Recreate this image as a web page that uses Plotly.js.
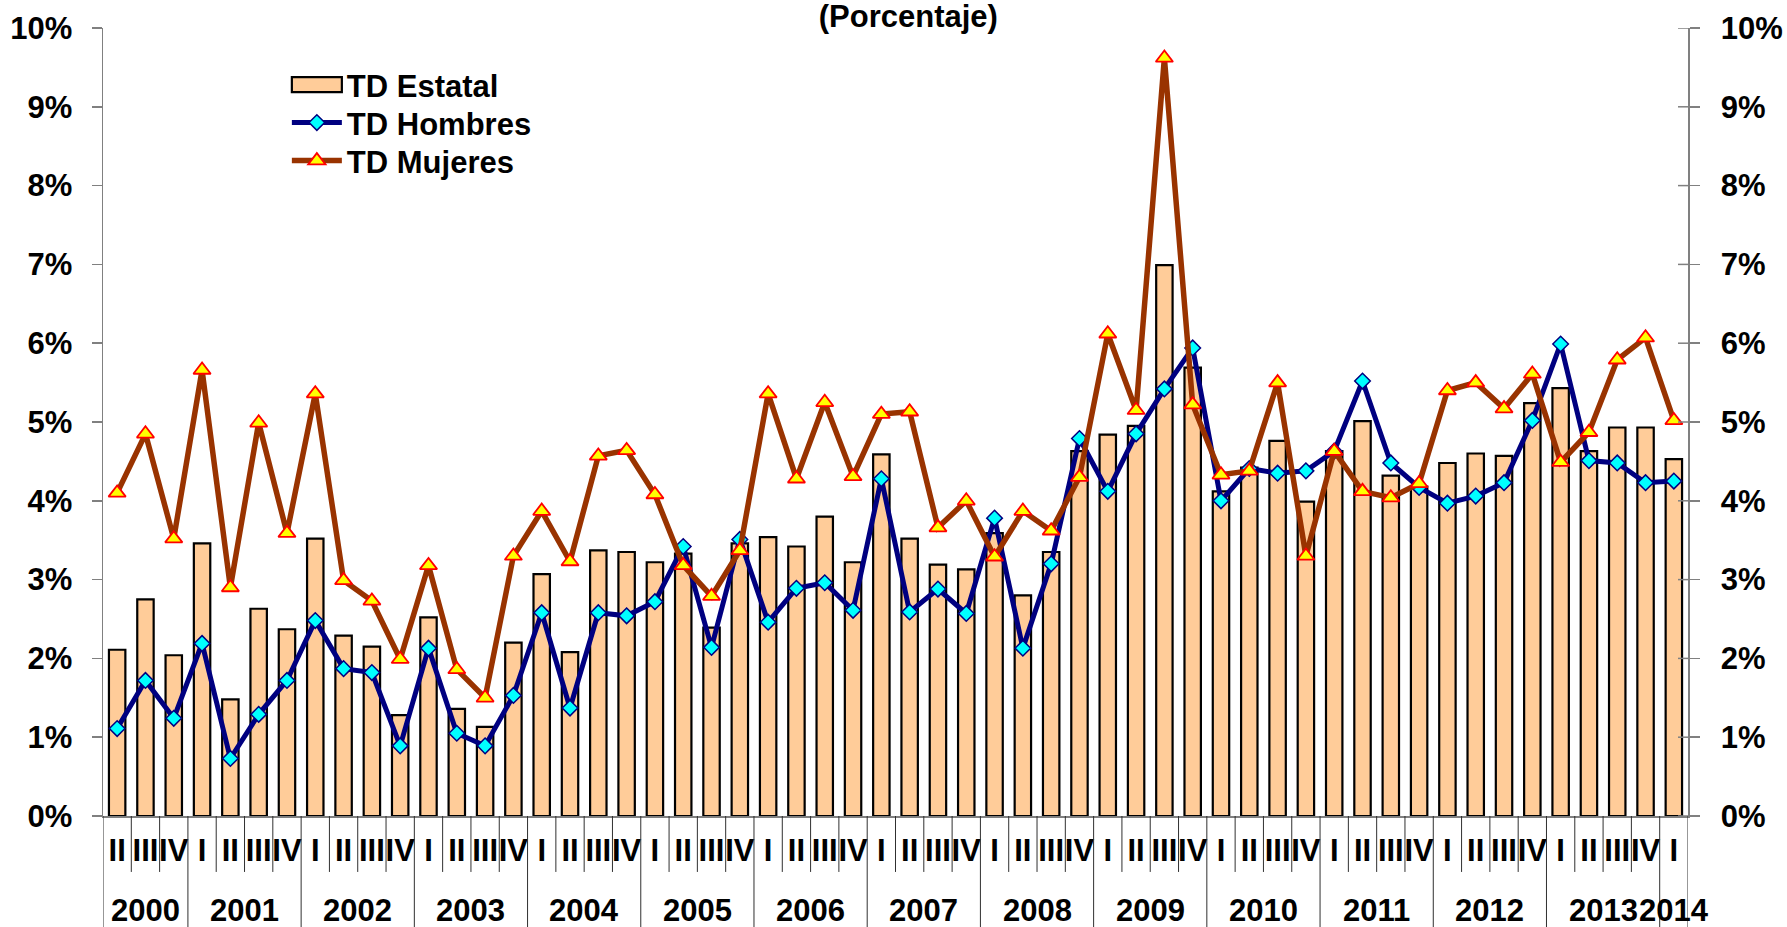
<!DOCTYPE html>
<html>
<head>
<meta charset="utf-8">
<script src="https://cdn.plot.ly/plotly-3.0.1.min.js"></script>
<style>
  html, body { margin: 0; padding: 0; background: #ffffff; }
  #chart { width: 1787px; height: 927px; }
</style>
</head>
<body>
<div id="chart"></div>
<script>
// ---- Data (percent) ----
const quarters = [
  'II','III','IV',
  'I','II','III','IV',
  'I','II','III','IV',
  'I','II','III','IV',
  'I','II','III','IV',
  'I','II','III','IV',
  'I','II','III','IV',
  'I','II','III','IV',
  'I','II','III','IV',
  'I','II','III','IV',
  'I','II','III','IV',
  'I','II','III','IV',
  'I','II','III','IV',
  'I','II','III','IV',
  'I'
];
const quarterYears = [
  '2000','2000','2000',
  '2001','2001','2001','2001',
  '2002','2002','2002','2002',
  '2003','2003','2003','2003',
  '2004','2004','2004','2004',
  '2005','2005','2005','2005',
  '2006','2006','2006','2006',
  '2007','2007','2007','2007',
  '2008','2008','2008','2008',
  '2009','2009','2009','2009',
  '2010','2010','2010','2010',
  '2011','2011','2011','2011',
  '2012','2012','2012','2012',
  '2013','2013','2013','2013',
  '2014'
];
const tdEstatal = [
  2.11, 2.75, 2.04,
  3.46, 1.48, 2.63, 2.37,
  3.52, 2.29, 2.15, 1.28,
  2.52, 1.36, 1.13, 2.20,
  3.07, 2.08, 3.37, 3.35,
  3.22, 3.33, 2.39, 3.46,
  3.54, 3.42, 3.80, 3.22,
  4.59, 3.52, 3.19, 3.13,
  3.59, 2.80, 3.35, 4.63,
  4.84, 4.95, 6.99, 5.69,
  4.12, 4.42, 4.76, 3.99,
  4.63, 5.01, 4.32, 4.18,
  4.48, 4.60, 4.57, 5.24,
  5.43, 4.63, 4.93, 4.93,
  4.53
];
const tdHombres = [
  1.11, 1.72, 1.24,
  2.19, 0.73, 1.29, 1.72,
  2.48, 1.87, 1.82, 0.89,
  2.13, 1.05, 0.89, 1.53,
  2.58, 1.37, 2.58, 2.54,
  2.72, 3.42, 2.14, 3.51,
  2.46, 2.89, 2.96, 2.61,
  4.28, 2.59, 2.88, 2.57,
  3.78, 2.13, 3.20, 4.79,
  4.12, 4.85, 5.42, 5.94,
  4.00, 4.41, 4.35, 4.38,
  4.63, 5.52, 4.48, 4.17,
  3.97, 4.06, 4.23, 5.02,
  5.99, 4.51, 4.48, 4.23,
  4.25
];
const tdMujeres = [
  4.10, 4.85, 3.52,
  5.66, 2.90, 4.99, 3.59,
  5.36, 2.99, 2.73, 1.99,
  3.18, 1.86, 1.50, 3.30,
  3.87, 3.23, 4.57, 4.64,
  4.08, 3.18, 2.79, 3.37,
  5.36, 4.28, 5.25, 4.31,
  5.10, 5.13, 3.66, 4.00,
  3.29, 3.87, 3.62, 4.30,
  6.12, 5.15, 9.62, 5.22,
  4.33, 4.38, 5.50, 3.30,
  4.63, 4.12, 4.04, 4.22,
  5.40, 5.50, 5.17, 5.61,
  4.49, 4.87, 5.79, 6.07,
  5.02
];
const seriesNames = ['TD Estatal', 'TD Hombres', 'TD Mujeres'];
const yTicks = [0,1,2,3,4,5,6,7,8,9,10];
const titleText = '(Porcentaje)';

// ---- Build ----
const periods = quarters.map((q, i) => quarterYears[i] + '-' + q);
const FONT = '"Liberation Sans", Arial, Helvetica, sans-serif';
const AXIS_GREY = '#808080';
const PLOT_W = 1787 - 103 - 99;

const traces = [
  {
    type: 'bar', name: seriesNames[0], x: periods, y: tdEstatal,
    marker: { color: '#FFCC99', line: { color: '#000000', width: 2.2 } },
    width: 0.58, yaxis: 'y'
  },
  {
    type: 'scatter', mode: 'lines+markers', name: seriesNames[1], x: periods, y: tdHombres,
    line: { color: '#000080', width: 5 },
    marker: { symbol: 'diamond', size: 12, color: '#00FFFF', line: { color: '#000080', width: 1.5 } },
    yaxis: 'y2'
  },
  {
    type: 'scatter', mode: 'lines+markers', name: seriesNames[2], x: periods, y: tdMujeres,
    line: { color: '#993300', width: 5.5 },
    marker: { symbol: 'triangle-up', size: 15, color: '#FFFF00', line: { color: '#FF0000', width: 1.8 } },
    yaxis: 'y2'
  }
];

// separators, inner right-axis ticks and year labels
const shapes = [];
const annotations = [];
const n = periods.length;
for (let i = 0; i <= n; i++) {
  const isYearEdge = (i === 0 || i === n || quarterYears[i] !== quarterYears[i - 1]);
  shapes.push({
    type: 'line', xref: 'x', yref: 'paper',
    x0: i - 0.5, x1: i - 0.5, y0: 0, y1: isYearEdge ? -0.145 : -0.071,
    line: { color: '#303030', width: 1 }
  });
}
yTicks.forEach(v => {
  shapes.push({
    type: 'line', xref: 'paper', yref: 'y',
    x0: 1 - 10 / PLOT_W, x1: 1, y0: v, y1: v,
    line: { color: AXIS_GREY, width: 1.5 }
  });
});
const uniqueYears = [...new Set(quarterYears)];
uniqueYears.forEach(yr => {
  const idx = quarterYears.map((y, i) => y === yr ? i : -1).filter(i => i >= 0);
  const mid = (idx[0] + idx[idx.length - 1]) / 2;
  annotations.push({
    xref: 'x', yref: 'paper', x: mid, y: -0.12, yanchor: 'middle', xanchor: 'center',
    text: yr, showarrow: false,
    font: { family: FONT, size: 31, weight: 'bold', color: '#000000' }
  });
});

const yAxisCommon = {
  range: [0, 10], tickmode: 'array', tickvals: yTicks, ticktext: yTicks.map(v => v + '%'),
  showgrid: false, zeroline: false, showline: true, linecolor: AXIS_GREY, linewidth: 1.5,
  ticks: 'outside', ticklen: 10, tickcolor: AXIS_GREY, tickwidth: 1.5,
  tickfont: { family: FONT, size: 31, weight: 'bold', color: '#000000' },
  fixedrange: true
};

const layout = {
  width: 1787, height: 927,
  margin: { l: 103, r: 99, t: 28, b: 111 },
  paper_bgcolor: '#ffffff', plot_bgcolor: '#ffffff',
  font: { family: FONT, color: '#000000' },
  title: {
    text: titleText,
    font: { family: FONT, size: 31, weight: 'bold', color: '#000000' },
    x: 908 / 1787, xanchor: 'center', xref: 'paper',
    yref: 'container', y: 1 - 5 / 927, yanchor: 'top'
  },
  showlegend: true,
  legend: {
    x: 0.116, y: 0.962, xanchor: 'left', yanchor: 'top',
    bgcolor: 'rgba(0,0,0,0)', borderwidth: 0,
    font: { family: FONT, size: 31, weight: 'bold', color: '#000000' },
    itemwidth: 50, traceorder: 'normal', tracegroupgap: 0
  },
  bargap: 0.42,
  xaxis: {
    type: 'category', range: [-0.5, n - 0.5],
    tickmode: 'array', tickvals: periods, ticktext: quarters, tickangle: 0,
    ticks: '', showgrid: false, zeroline: false,
    showline: true, linecolor: AXIS_GREY, linewidth: 1.5,
    tickfont: { family: FONT, size: 31, weight: 'bold', color: '#000000' },
    ticklabelstandoff: 6,
    fixedrange: true
  },
  yaxis: Object.assign({}, yAxisCommon, { side: 'left', ticklabelstandoff: 13 }),
  yaxis2: Object.assign({}, yAxisCommon, { side: 'right', overlaying: 'y', ticklabelstandoff: 15 }),
  shapes: shapes,
  annotations: annotations
};

Plotly.newPlot('chart', traces, layout, { displayModeBar: false, staticPlot: true }).then(gd => {
  try {
    const items = gd.querySelectorAll('.legend .traces');
    // widen the bar legend symbol to a long box like the reference (x span of the line symbols)
    const barPath = items[0] && items[0].querySelector('.legendpoints path');
    const linePath = items[1] && items[1].querySelector('.legendlines path');
    if (barPath && linePath) {
      const svg = gd.querySelector('svg.main-svg');
      const lb = linePath.getBBox();
      const bb = barPath.getBBox();
      const m1 = linePath.getCTM();
      const m2 = barPath.getCTM().inverse();
      const tp = (x, y) => { let p = svg.createSVGPoint(); p.x = x; p.y = y; return p.matrixTransform(m1).matrixTransform(m2); };
      const a = tp(lb.x, 0);
      const b = tp(lb.x + lb.width, 0);
      const cy = bb.y + bb.height / 2;
      barPath.setAttribute('d', 'M' + a.x + ',' + (cy - 7.5) + 'H' + b.x + 'V' + (cy + 7.5) + 'H' + a.x + 'Z');
    }
    // tighten legend row spacing like the reference
    let y0 = null;
    items.forEach((g, k) => {
      const t = g.getAttribute('transform') || '';
      const m = t.match(/translate\(([-\d.]+)[ ,]+([-\d.]+)\)/);
      if (!m) return;
      const x = parseFloat(m[1]);
      const y = parseFloat(m[2]);
      if (y0 === null) y0 = y;
      g.setAttribute('transform', 'translate(' + x + ',' + (y0 + k * 38) + ')');
    });
  } catch (e) { /* keep default legend */ }
});
</script>
</body>
</html>
